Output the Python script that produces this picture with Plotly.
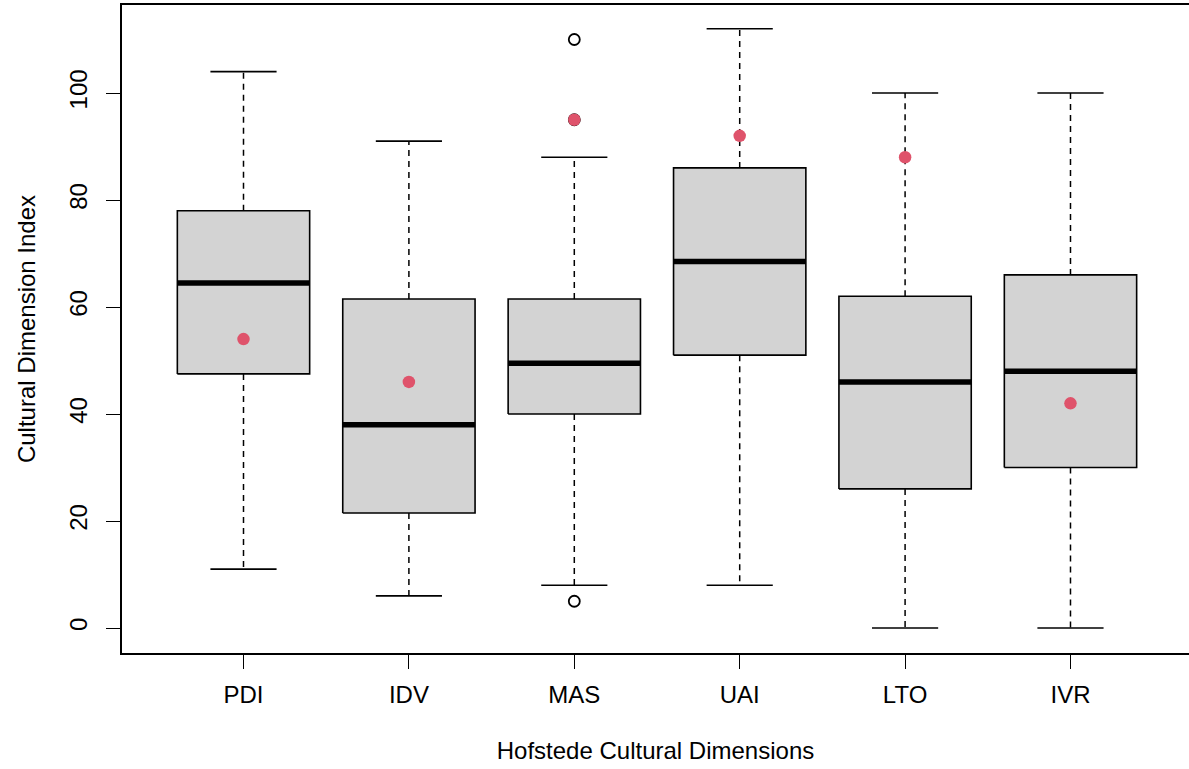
import plotly.graph_objects as go

categories = ["PDI", "IDV", "MAS", "UAI", "LTO", "IVR"]
lower_whisker = [11, 6, 8, 8, 0, 0]
q1 = [47.5, 21.5, 40, 51, 26, 30]
median = [64.5, 38, 49.5, 68.5, 46, 48]
q3 = [78, 61.5, 61.5, 86, 62, 66]
upper_whisker = [104, 91, 88, 112, 100, 100]
outlier_cat = ["MAS", "MAS", "MAS"]
outlier_val = [110, 95, 5]
highlight = [54, 46, 95, 92, 88, 42]

BOX_HALF = 0.4
CAP_HALF = 0.2
FONT = "Liberation Sans, Arial, sans-serif"

pos = {c: i + 1 for i, c in enumerate(categories)}
xs = [pos[c] for c in categories]

fig = go.Figure()

# whiskers (dashed)
wx, wy = [], []
for x, lo, a, b, hi in zip(xs, lower_whisker, q1, q3, upper_whisker):
    wx += [x, x, None, x, x, None]
    wy += [b, hi, None, a, lo, None]
fig.add_trace(go.Scatter(x=wx, y=wy, mode="lines",
                         line=dict(color="black", width=1.5, dash="6px,5px"),
                         hoverinfo="skip", showlegend=False))

# caps
cx, cy = [], []
for x, lo, hi in zip(xs, lower_whisker, upper_whisker):
    cx += [x - CAP_HALF, x + CAP_HALF, None, x - CAP_HALF, x + CAP_HALF, None]
    cy += [hi, hi, None, lo, lo, None]
fig.add_trace(go.Scatter(x=cx, y=cy, mode="lines",
                         line=dict(color="black", width=1.6),
                         hoverinfo="skip", showlegend=False))

# boxes
for x, a, b in zip(xs, q1, q3):
    fig.add_trace(go.Scatter(
        x=[x - BOX_HALF, x + BOX_HALF, x + BOX_HALF, x - BOX_HALF, x - BOX_HALF],
        y=[a, a, b, b, a], mode="lines", fill="toself",
        fillcolor="#D3D3D3", line=dict(color="black", width=1.6),
        hoverinfo="skip", showlegend=False))

# medians
mx, my = [], []
for x, m in zip(xs, median):
    mx += [x - BOX_HALF, x + BOX_HALF, None]
    my += [m, m, None]
fig.add_trace(go.Scatter(x=mx, y=my, mode="lines",
                         line=dict(color="black", width=5.5),
                         hoverinfo="skip", showlegend=False))

# outliers
fig.add_trace(go.Scatter(x=[pos[c] for c in outlier_cat], y=outlier_val, mode="markers",
                         marker=dict(symbol="circle-open", size=11, color="black",
                                     line=dict(width=1.8, color="black")),
                         showlegend=False))

# highlighted points
fig.add_trace(go.Scatter(x=xs, y=highlight, mode="markers",
                         marker=dict(symbol="circle", size=12.5, color="#DF536B"),
                         showlegend=False))

fig.update_layout(
    width=1189, height=769,
    margin=dict(l=122, r=0, t=5, b=116),
    paper_bgcolor="white", plot_bgcolor="white",
    font=dict(family=FONT, size=24, color="black"),
    showlegend=False,
    xaxis=dict(
        range=[0.2654, 6.7165], tickmode="array", tickvals=xs, ticktext=categories,
        showline=True, linecolor="black", linewidth=1.6, mirror=True,
        ticks="outside", ticklen=14, tickwidth=1.4, tickcolor="black",
        showgrid=False, zeroline=False, ticklabelstandoff=5,
        tickfont=dict(family=FONT, size=24),
        title=dict(text="Hofstede Cultural Dimensions", standoff=36,
                   font=dict(family=FONT, size=24)),
    ),
    yaxis=dict(
        range=[-4.67, 116.45], tickmode="array", tickvals=[0, 20, 40, 60, 80, 100],
        showline=True, linecolor="black", linewidth=1.6,
        ticks="outside", ticklen=14, tickwidth=1.4, tickcolor="black",
        showgrid=False, zeroline=False, tickangle=-90, ticklabelstandoff=10,
        tickfont=dict(family=FONT, size=24),
        title=dict(text="Cultural Dimension Index", standoff=22,
                   font=dict(family=FONT, size=24)),
    ),
)

fig.write_html("out.html", config={"displayModeBar": False},
               post_script="document.body.style.margin='0';")
